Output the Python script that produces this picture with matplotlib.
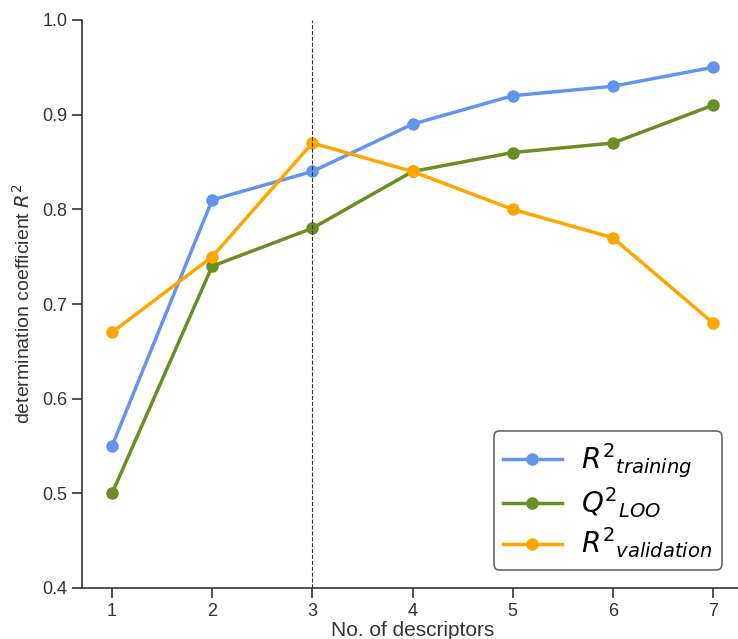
import matplotlib
matplotlib.use('Agg')
from matplotlib import pyplot as plt

plt.rcParams['font.family'] = ['Liberation Sans', 'DejaVu Sans']
plt.rcParams['mathtext.fontset'] = 'dejavusans'

n_desc = [1, 2, 3, 4, 5, 6, 7]
r2_training = [0.55, 0.81, 0.84, 0.89, 0.92, 0.93, 0.95]
q2_loo = [0.50, 0.74, 0.78, 0.84, 0.86, 0.87, 0.91]
r2_validation = [0.67, 0.75, 0.87, 0.84, 0.80, 0.77, 0.68]
chosen = 3

fig = plt.figure(figsize=(7.38, 6.39), dpi=100)
ax = fig.add_axes([82 / 738, 51 / 639, (743 - 82) / 738, 568 / 639])

ax.plot(n_desc, r2_training, color='#6495ED', marker='o', linewidth=2.5,
        markersize=8, label=r'$R^2{}_{training}$')
ax.plot(n_desc, q2_loo, color='#6B8E23', marker='o', linewidth=2.5,
        markersize=8, label=r'$Q^2{}_{LOO}$')
ax.plot(n_desc, r2_validation, color='#FFA500', marker='o', linewidth=2.5,
        markersize=8, label=r'$R^2{}_{validation}$')
ax.axvline(chosen, color='#333333', linestyle='--', linewidth=0.8)

ax.set_xlim(0.7, 7.3)
ax.set_ylim(0.4, 1.0)
ax.set_xticks(n_desc)
ax.set_yticks([0.4, 0.5, 0.6, 0.7, 0.8, 0.9, 1.0])
ax.tick_params(labelsize=13, colors='#333333', length=7, width=1.2)
ax.spines['top'].set_visible(False)
ax.spines['right'].set_visible(False)
ax.spines['left'].set_color('#333333')
ax.spines['bottom'].set_color('#333333')
ax.spines['left'].set_linewidth(1.2)
ax.spines['bottom'].set_linewidth(1.2)
# reference crops the label at the bottom edge; keep it just inside
ax.set_xlabel('No. of descriptors', fontsize=15, color='#333333', labelpad=1)
ax.set_ylabel(r'determination coefficient $R^2$', fontsize=14, color='#333333',
              labelpad=6)

leg = ax.legend(loc='lower right', bbox_to_anchor=(0.968, 0.032), borderaxespad=0,
                fontsize=20, frameon=True, edgecolor='#444444', fancybox=True,
                handlelength=2.1, handletextpad=0.7, labelspacing=0.2,
                borderpad=0.35)
leg.get_frame().set_linewidth(1.2)

plt.savefig('out.png', dpi=100)
